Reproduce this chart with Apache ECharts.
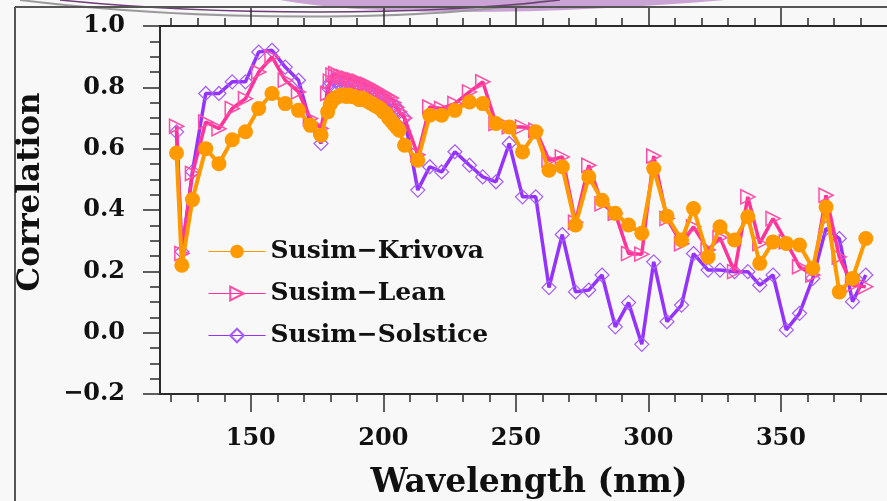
<!DOCTYPE html>
<html>
<head>
<meta charset="utf-8">
<script src="https://cdn.jsdelivr.net/npm/echarts@6/dist/echarts.min.js"></script>
<style>
  html, body { margin: 0; padding: 0; background: #f8f8f8; }
  #chart { width: 887px; height: 501px; }
</style>
</head>
<body>
<div id="chart"></div>
<script>
// Wavelength grid (nm) shared by the three correlation series
const wavelength = [
  122, 124, 128, 133, 138, 143, 148, 153, 158, 163, 168, 172.5, 176.5,
  179, 180, 181, 182, 183, 184, 185, 186, 187, 188, 189, 190, 191, 192,
  193, 194, 195, 196, 197, 198, 199, 200, 201, 202, 203, 204, 205, 206,
  208, 213,
  217.5, 222, 227, 232.5, 237.5, 242.5, 247.5, 252.5, 257.5, 262.5,
  267.5, 272.5, 277.5, 282.5, 287.5, 292.5, 297.5, 302, 307, 312.5,
  317, 322.5, 327, 332.5, 337.5, 342, 347, 352, 357, 362,
  367, 372, 377, 382
];

const krivova = [
  0.586, 0.22, 0.434, 0.60, 0.551, 0.629, 0.655, 0.731, 0.78, 0.747, 0.725, 0.676, 0.644,
  0.72, 0.745, 0.76, 0.765, 0.77, 0.775, 0.775, 0.77, 0.775, 0.77, 0.77, 0.765, 0.76, 0.765,
  0.76, 0.755, 0.75, 0.745, 0.74, 0.735, 0.73, 0.72, 0.715, 0.70, 0.69, 0.68, 0.67, 0.66,
  0.611, 0.562,
  0.709, 0.709, 0.725, 0.752, 0.747, 0.682, 0.671, 0.589, 0.655, 0.53,
  0.541, 0.351, 0.508, 0.432, 0.389, 0.351, 0.324, 0.535, 0.38, 0.302,
  0.405, 0.247, 0.345, 0.302, 0.378, 0.226, 0.296, 0.291, 0.286, 0.21,
  0.41, 0.133, 0.177, 0.307
];

const lean = [
  0.673, 0.258, 0.519, 0.687, 0.665, 0.731, 0.763, 0.85, 0.899, 0.823, 0.785, 0.698, 0.666,
  0.78, 0.82, 0.84, 0.845, 0.84, 0.835, 0.835, 0.83, 0.83, 0.825, 0.825, 0.82, 0.82, 0.815,
  0.81, 0.81, 0.805, 0.80, 0.795, 0.79, 0.785, 0.78, 0.775, 0.77, 0.765, 0.75, 0.735, 0.72,
  0.70, 0.58,
  0.736, 0.731, 0.747, 0.785, 0.818, 0.682, 0.671, 0.671, 0.66, 0.562,
  0.573, 0.36, 0.546, 0.42, 0.389, 0.258, 0.256, 0.576, 0.372, 0.29,
  0.345, 0.27, 0.31, 0.199, 0.443, 0.291, 0.372, 0.296, 0.215, 0.188,
  0.448, 0.247, 0.155, 0.15
];

const solstice = [
  0.655, 0.264, 0.525, 0.78, 0.78, 0.818, 0.818, 0.915, 0.921, 0.866, 0.823, 0.682, 0.617,
  0.80, 0.815, 0.825, 0.82, 0.815, 0.81, 0.81, 0.805, 0.80, 0.80, 0.795, 0.79, 0.79, 0.785,
  0.78, 0.78, 0.775, 0.77, 0.765, 0.76, 0.76, 0.755, 0.75, 0.745, 0.74, 0.74, 0.735, 0.72,
  0.70, 0.465,
  0.541, 0.524, 0.59, 0.546, 0.508, 0.492, 0.617, 0.443, 0.443, 0.147,
  0.32, 0.133, 0.139, 0.188, 0.019, 0.098, -0.038, 0.231, 0.036, 0.09,
  0.258, 0.204, 0.204, 0.199, 0.199, 0.155, 0.188, 0.009, 0.063, 0.177,
  0.34, 0.307, 0.101, 0.188
];

const seriesNames = ['Susim\u2212Krivova', 'Susim\u2212Lean', 'Susim\u2212Solstice'];
const majorTicks = [150, 200, 250, 300, 350];
const minorTicks = [120, 130, 140, 160, 170, 180, 190, 210, 220, 230, 240,
                    260, 270, 280, 290, 310, 320, 330, 340, 360, 370, 380];

const FONT = '"DejaVu Serif", "Liberation Serif", serif';
const INK = '#2b2b2b';
const X_MIN = 115.76, X_MAX = 390;

const pairs = vals => wavelength.map((w, i) => [w, vals[i]]);

function xAxisCfg(position, tickValues, tickLen, withLine, withLabels) {
  return {
    type: 'value', position: position, min: X_MIN, max: X_MAX,
    axisLine: { show: withLine, onZero: false, lineStyle: { color: INK, width: 2 } },
    axisTick: { show: true, inside: false, length: tickLen, customValues: tickValues,
                lineStyle: { color: INK, width: 1.5 } },
    axisLabel: withLabels ? {
      show: true, customValues: tickValues, margin: 33,
      fontFamily: FONT, fontWeight: 'bold', fontSize: 24, color: '#111'
    } : { show: false },
    splitLine: { show: false }
  };
}

const chart = echarts.init(document.getElementById('chart'), null, { renderer: 'canvas' });

chart.setOption({
  backgroundColor: '#f8f8f8',
  animation: false,
  grid: { left: 160, top: 26, width: 734, height: 368, containLabel: false },
  xAxis: [
    xAxisCfg('bottom', majorTicks, 18, true, true),
    xAxisCfg('bottom', minorTicks, 8, false, false),
    xAxisCfg('top', majorTicks, 18, true, false),
    xAxisCfg('top', minorTicks, 8, false, false)
  ],
  yAxis: {
    type: 'value', min: -0.2, max: 1.0, interval: 0.2,
    axisLine: { show: true, onZero: false, lineStyle: { color: INK, width: 2 } },
    axisTick: { show: true, inside: false, length: 17, lineStyle: { color: INK, width: 1.5 } },
    minorTick: { show: true, splitNumber: 4, length: 10, lineStyle: { color: INK, width: 1.5 } },
    splitLine: { show: false },
    axisLabel: {
      margin: 35, fontFamily: FONT, fontWeight: 'bold', fontSize: 24, color: '#111',
      formatter: v => (v < -1e-9 ? '\u2212' : '') + Math.abs(v).toFixed(1)
    }
  },
  legend: {
    orient: 'vertical', left: 203, top: 234,
    itemWidth: 57, itemHeight: 17, itemGap: 17,
    lineStyle: { width: 1 },
    textStyle: { fontFamily: FONT, fontWeight: 'bold', fontSize: 25, color: '#111', lineHeight: 18 },
    data: seriesNames
  },
  graphic: [
    // slide decoration along the top edge
    { type: 'bezierCurve', z: 0,
      shape: { x1: 280, y1: 0, cpx1: 380, cpy1: 18, cpx2: 560, cpy2: 14, x2: 725, y2: 0 },
      style: { fill: '#c9a3d3', stroke: 'none' } },
    { type: 'bezierCurve', z: 0,
      shape: { x1: 20, y1: 0, cpx1: 200, cpy1: 22, cpx2: 430, cpy2: 22, x2: 550, y2: 0 },
      style: { fill: 'none', stroke: '#9a9a9a', lineWidth: 2 } },
    { type: 'bezierCurve', z: 0,
      shape: { x1: 60, y1: 0, cpx1: 220, cpy1: 16, cpx2: 420, cpy2: 16, x2: 560, y2: 0 },
      style: { fill: 'none', stroke: '#6e3f76', lineWidth: 1.5 } },
    // outer frame
    { type: 'line', z: 1, shape: { x1: 15, y1: 7, x2: 887, y2: 7 },
      style: { stroke: '#555', lineWidth: 2 } },
    { type: 'line', z: 1, shape: { x1: 15, y1: 7, x2: 15, y2: 501 },
      style: { stroke: '#555', lineWidth: 2 } },
    // axis titles
    { type: 'text', x: 529, y: 483, z: 5,
      style: { text: 'Wavelength (nm)', font: 'bold 33px ' + FONT, fill: '#111',
               align: 'center', verticalAlign: 'middle', textAlign: 'center', textVerticalAlign: 'middle' } },
    { type: 'text', x: 31, y: 192, rotation: Math.PI / 2, z: 5,
      style: { text: 'Correlation', font: 'bold 31px ' + FONT, fill: '#111',
               align: 'center', verticalAlign: 'middle', textAlign: 'center', textVerticalAlign: 'middle' } }
  ],
  series: [
    {
      name: seriesNames[0], type: 'line', xAxisIndex: 0, z: 4,
      data: pairs(krivova),
      symbol: 'circle', symbolSize: 15,
      itemStyle: { color: '#ff9900' },
      lineStyle: { color: '#ff9900', width: 4 }
    },
    {
      name: seriesNames[1], type: 'line', xAxisIndex: 0, z: 3,
      data: pairs(lean),
      symbol: 'triangle', symbolRotate: -90, symbolSize: 14,
      itemStyle: { color: 'rgba(255,255,255,0)', borderColor: '#ff4da6', borderWidth: 1.5 },
      lineStyle: { color: '#ff3399', width: 3.5 }
    },
    {
      name: seriesNames[2], type: 'line', xAxisIndex: 0, z: 2,
      data: pairs(solstice),
      symbol: 'diamond', symbolSize: 14,
      itemStyle: { color: 'rgba(255,255,255,0)', borderColor: '#a55cff', borderWidth: 1.2 },
      lineStyle: { color: '#9433ff', width: 3.5 }
    }
  ]
});
</script>
</body>
</html>
